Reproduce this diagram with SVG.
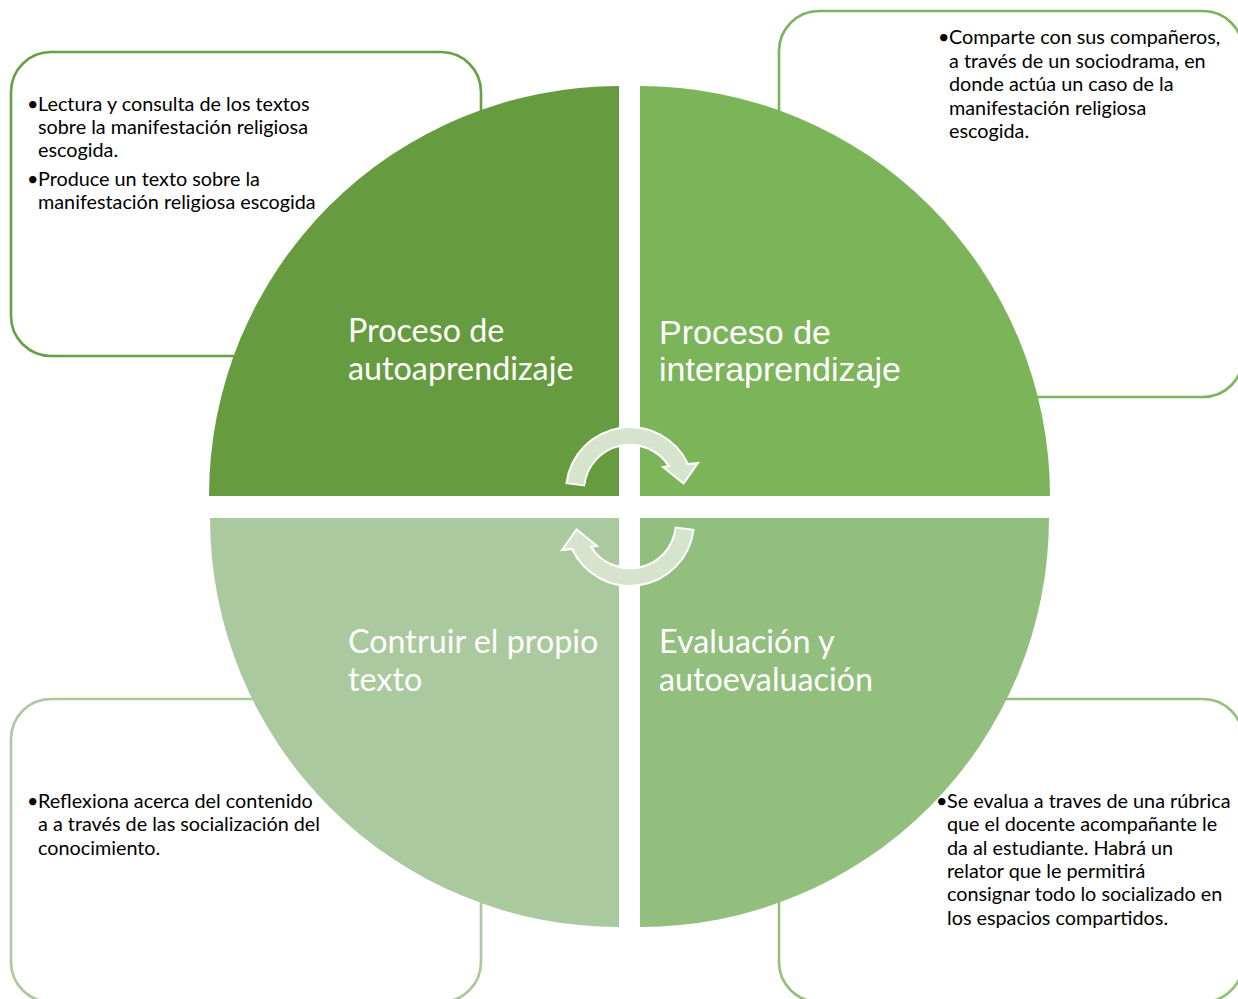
<svg xmlns="http://www.w3.org/2000/svg" width="1238" height="999" viewBox="0 0 1238 999">
<style>
.box{fill:#ffffff;stroke-width:2.6}
.bt{font-family:Lato,"Open Sans","Liberation Sans",sans-serif;font-size:19.8px;fill:#000000}
.lbl{font-family:Lato,"Open Sans","Liberation Sans",sans-serif;font-size:32.3px;fill:#ffffff}
.lbla{font-family:"Liberation Sans",Arial,sans-serif;font-size:34px;fill:#ffffff}
.arr{fill:#d7e4cd;stroke:#ffffff;stroke-width:2;stroke-linejoin:miter}
</style>
<rect width="1238" height="999" fill="#ffffff"/>
<g id="box-tl">
<rect class="box" x="11" y="52" width="470" height="304" rx="40" stroke="#67a042"/>
<text class="bt"><tspan x="27" y="111">•</tspan><tspan x="38" y="111">Lectura y consulta de los textos</tspan><tspan x="38" y="134">sobre la manifestación religiosa</tspan><tspan x="38" y="157">escogida.</tspan><tspan x="27" y="185.5">•</tspan><tspan x="38" y="185.5">Produce un texto sobre la</tspan><tspan x="38" y="208.5">manifestación religiosa escogida</tspan></text>
</g>
<g id="box-tr">
<rect class="box" x="779" y="11" width="464" height="386" rx="40" stroke="#7bb45a"/>
<text class="bt"><tspan x="938" y="44">•</tspan><tspan x="949" y="44">Comparte con sus compañeros,</tspan><tspan x="949" y="67.5">a través de un sociodrama, en</tspan><tspan x="949" y="91">donde actúa un caso de la</tspan><tspan x="949" y="114.5">manifestación religiosa</tspan><tspan x="949" y="138">escogida.</tspan></text>
</g>
<g id="box-bl">
<rect class="box" x="11" y="699" width="470" height="303" rx="40" stroke="#aac99c"/>
<text class="bt"><tspan x="27" y="808">•</tspan><tspan x="38" y="808">Reflexiona acerca del contenido</tspan><tspan x="38" y="831">a a través de las socialización del</tspan><tspan x="38" y="854.5">conocimiento.</tspan></text>
</g>
<g id="box-br">
<rect class="box" x="779" y="699" width="464" height="303" rx="40" stroke="#93c07d"/>
<text class="bt"><tspan x="936" y="808">•</tspan><tspan x="947" y="808">Se evalua a traves de una rúbrica</tspan><tspan x="947" y="831">que el docente acompañante le</tspan><tspan x="947" y="854.5">da al estudiante. Habrá un</tspan><tspan x="947" y="878">relator que le permitirá</tspan><tspan x="947" y="901">consignar todo lo socializado en</tspan><tspan x="947" y="924.5">los espacios compartidos.</tspan></text>
</g>
<g id="q-tl">
<path d="M619,496 L209,496 A410,410 0 0 1 619,86 Z" fill="#669c3f"/>
<text class="lbl"><tspan x="348" y="342">Proceso de</tspan><tspan x="348" y="380">autoaprendizaje</tspan></text>
</g>
<g id="q-tr">
<path d="M640,496 L640,86 A410,410 0 0 1 1050,496 Z" fill="#7cb45a"/>
<text class="lbla"><tspan x="659" y="344">Proceso de</tspan><tspan x="659" y="381">interaprendizaje</tspan></text>
</g>
<g id="q-bl">
<path d="M619,518 L619,927 A409,409 0 0 1 210,518 Z" fill="#abc99e"/>
<text class="lbl"><tspan x="348" y="653">Contruir el propio</tspan><tspan x="348" y="691">texto</tspan></text>
</g>
<g id="q-br">
<path d="M640,518 L1049,518 A409,409 0 0 1 640,927 Z" fill="#93bf7e"/>
<text class="lbl"><tspan x="659" y="653">Evaluación y</tspan><tspan x="659" y="691">autoevaluación</tspan></text>
</g>
<g id="connectors">
<path id="arrow-top" class="arr" d="M566.5,483.2 A64,64 0 0 1 688,464.1 L698,463 L683.5,483.5 L663,467 L669,466.3 A46,46 0 0 0 584.3,485.4 Z"/>
<path id="arrow-bottom" class="arr" transform="rotate(180 630 506.5)" d="M566.5,483.2 A64,64 0 0 1 688,464.1 L698,463 L683.5,483.5 L663,467 L669,466.3 A46,46 0 0 0 584.3,485.4 Z"/>
</g>
</svg>
